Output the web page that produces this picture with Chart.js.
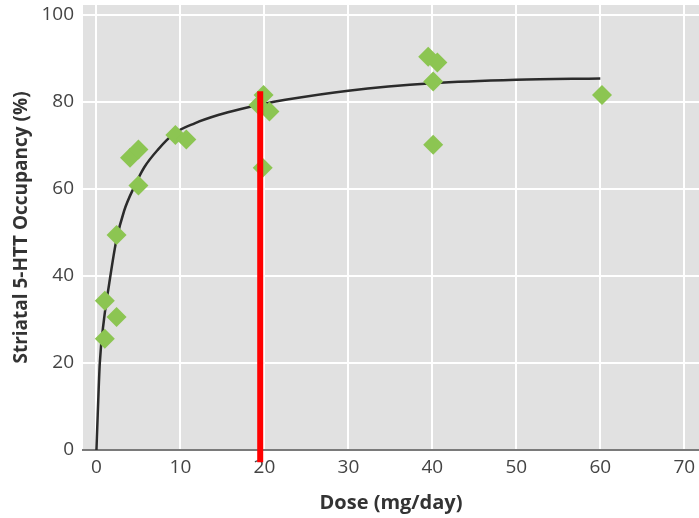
<!DOCTYPE html>
<html>
<head>
<meta charset="utf-8">
<script src="https://cdn.jsdelivr.net/npm/chart.js@4"></script>
<style>
  html, body { margin: 0; padding: 0; background: #fff; }
  #wrap { width: 699px; height: 518px; }
</style>
</head>
<body>
<div id="wrap"><canvas id="occ-chart" width="699" height="518"></canvas></div>
<script>
// Observed occupancy per subject (dose mg/day, occupancy %)
const doseObs = [1.0, 2.4, 1.0, 2.4, 5.0, 4.0, 5.0, 9.4, 10.7, 19.9, 19.3, 20.6, 19.8, 39.5, 40.6, 40.1, 40.1, 60.2];
const occObs  = [34.3, 30.6, 25.6, 49.4, 60.8, 67.2, 69.1, 72.4, 71.4, 81.6, 79.3, 77.8, 64.9, 90.4, 89.1, 84.7, 70.2, 81.6];

// Fitted curve
const doseFit = [0, 0.15, 0.4, 0.9, 1.5, 2.35, 3.3, 4.5, 5.7, 7.3, 9.3, 11.7, 14.5, 17.2, 20, 22.5, 30, 40, 50, 60];
const occFit  = [0, 8, 20, 30, 38, 48, 55, 60.5, 65, 69, 72.8, 75.1, 77, 78.4, 79.6, 80.5, 82.6, 84.3, 85.1, 85.4];

// Red marker line
const markDose = [19.5, 19.5];
const markOcc  = [-2.8, 82.5];

const xTicks = [0, 10, 20, 30, 40, 50, 60, 70];
const yTicks = [0, 20, 40, 60, 80, 100];

const toPts = (xs, ys) => xs.map((x, i) => ({ x, y: ys[i] }));

const plotBg = {
  id: 'plotBg',
  beforeDraw(chart) {
    const { ctx, chartArea: a } = chart;
    ctx.save();
    ctx.fillStyle = '#e1e1e1';
    ctx.fillRect(a.left, a.top, a.right - a.left, a.bottom - a.top);
    ctx.restore();
  }
};

// drop the automatic edge padding Chart.js reserves for tick labels
const noPad = s => { s.paddingTop = 0; s.paddingBottom = 0; s.paddingLeft = 0; s.paddingRight = 0; };

const tickFont = { family: 'Open Sans', size: 19 };

new Chart(document.getElementById('occ-chart'), {
  type: 'scatter',
  data: {
    datasets: [
      { data: toPts(markDose, markOcc), showLine: true, borderColor: '#ff0000', borderWidth: 6,
        pointRadius: 0, clip: false, borderCapStyle: 'butt' },
      { data: toPts(doseObs, occObs), pointStyle: 'rectRot', pointRadius: 10,
        backgroundColor: '#8cc552', borderWidth: 0 },
      { data: toPts(doseFit, occFit), showLine: true, borderColor: '#2b2b2b', borderWidth: 2.5,
        pointRadius: 0, cubicInterpolationMode: 'monotone' }
    ]
  },
  options: {
    responsive: false,
    animation: false,
    layout: { autoPadding: false, padding: { top: 5, right: 0, left: 0, bottom: 0 } },
    plugins: { legend: { display: false }, tooltip: { enabled: false } },
    scales: {
      x: {
        type: 'linear', min: -1.6, max: 71.75,
        afterBuildTicks: s => { s.ticks = xTicks.map(v => ({ value: v })); },
        afterFit: s => { s.height = 68; noPad(s); },
        grid: { color: '#ffffff', lineWidth: 2, drawTicks: false },
        border: { color: '#7a7a7a', width: 2 },
        ticks: { color: '#444', font: tickFont, padding: 6, maxRotation: 0 },
        title: { display: true, text: 'Dose (mg/day)', color: '#333',
                 font: { family: 'Open Sans', size: 20, weight: 'bold' }, padding: { bottom: 3 } }
      },
      y: {
        type: 'linear', min: 0, max: 102.3,
        afterBuildTicks: s => { s.ticks = yTicks.map(v => ({ value: v })); },
        afterFit: s => { s.width = 83; noPad(s); },
        grid: { color: '#ffffff', lineWidth: 2, drawTicks: false },
        border: { display: false },
        ticks: { color: '#444', font: tickFont, padding: 9 },
        title: { display: true, text: 'Striatal 5-HTT Occupancy (%)', color: '#333',
                 font: { family: 'Open Sans', size: 19, weight: 'bold' }, padding: { top: 10 } }
      }
    }
  },
  plugins: [plotBg]
});
</script>
</body>
</html>
